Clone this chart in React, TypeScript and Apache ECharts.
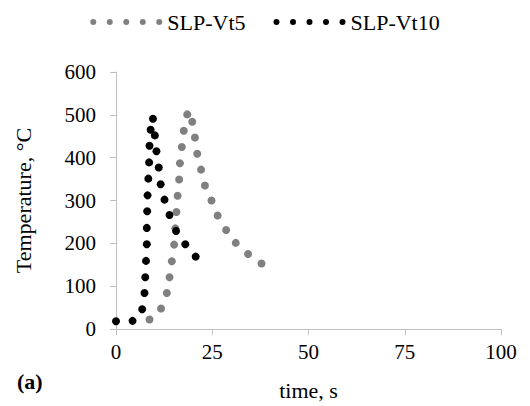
import React, { useEffect, useRef } from "react";
import * as echarts from "echarts";

const vt5Time = [8.7, 11.7, 13.2, 13.9, 14.5, 15.1, 15.4, 15.7, 16.0, 16.4, 16.6, 17.1, 17.6, 18.5, 19.8, 20.5, 21.1, 22.1, 23.1, 24.8, 26.4, 28.6, 31.1, 34.3, 37.8];
const vt5Temp = [22, 48, 84, 121, 158, 197, 235, 273, 311, 349, 387, 425, 463, 501, 484, 447, 409, 372, 335, 300, 265, 231, 201, 175, 153];
const vt10Time = [0, 4.3, 6.8, 7.4, 7.6, 7.8, 8.0, 8.0, 8.1, 8.2, 8.4, 8.6, 8.7, 9.0, 9.6, 10.1, 10.5, 11.1, 11.6, 12.6, 13.9, 15.6, 18.0, 20.7];
const vt10Temp = [18, 19, 46, 84, 121, 159, 198, 236, 275, 312, 351, 389, 428, 465, 491, 452, 415, 377, 338, 302, 266, 229, 198, 169];
const seriesNames = ["SLP-Vt5", "SLP-Vt10"];
const xTicks = [0, 25, 50, 75, 100];
const yTicks = [0, 100, 200, 300, 400, 500, 600];

const dotsIcon =
  "path://" +
  [0, 16.5, 33, 49.5, 66]
    .map((x) => `M${x},3a3,3 0 1,0 6,0a3,3 0 1,0 -6,0Z`)
    .join(" ");

export default function App() {
  const ref = useRef<HTMLDivElement>(null);
  useEffect(() => {
    if (!ref.current) return;
    const chart = echarts.init(ref.current, null, { renderer: "svg" });
    const font = "'Liberation Serif', 'Times New Roman', serif";
    const axisLine = { lineStyle: { color: "#bfbfbf", width: 1 } };
    chart.setOption({
      animation: false,
      backgroundColor: "#ffffff",
      textStyle: { fontFamily: font },
      legend: {
        top: 6,
        left: "center",
        itemGap: 28,
        itemWidth: 72,
        itemHeight: 6,
        textStyle: { fontFamily: font, fontSize: 22, color: "#000" },
        data: [
          { name: seriesNames[0], icon: dotsIcon },
          { name: seriesNames[1], icon: dotsIcon },
        ],
      },
      grid: { left: 116, right: 29, top: 72, bottom: 76 },
      xAxis: {
        type: "value",
        min: xTicks[0],
        max: xTicks[xTicks.length - 1],
        interval: 25,
        name: "time, s",
        nameLocation: "middle",
        nameGap: 50,
        nameTextStyle: { fontFamily: font, fontSize: 22, color: "#000" },
        axisLine: { show: true, ...axisLine },
        axisTick: { show: true, length: 6, lineStyle: { color: "#bfbfbf" } },
        axisLabel: { fontFamily: font, fontSize: 21, color: "#000", margin: 12 },
        splitLine: { show: false },
      },
      yAxis: {
        type: "value",
        min: yTicks[0],
        max: yTicks[yTicks.length - 1],
        interval: 100,
        name: "Temperature, °C",
        nameLocation: "middle",
        nameGap: 82,
        nameTextStyle: { fontFamily: font, fontSize: 22, color: "#000" },
        axisLine: { show: true, ...axisLine },
        axisTick: { show: true, length: 6, lineStyle: { color: "#bfbfbf" } },
        axisLabel: { fontFamily: font, fontSize: 21, color: "#000", margin: 20 },
        splitLine: { show: false },
      },
      graphic: [
        {
          type: "text",
          left: 17,
          top: 370,
          style: { text: "(a)", fontFamily: font, fontSize: 22, fontWeight: "bold", fill: "#000" },
        },
      ],
      series: [
        {
          name: seriesNames[0],
          type: "scatter",
          symbol: "circle",
          symbolSize: 8,
          itemStyle: { color: "#808080", opacity: 1 },
          data: vt5Time.map((t, i) => [t, vt5Temp[i]]),
        },
        {
          name: seriesNames[1],
          type: "scatter",
          symbol: "circle",
          symbolSize: 8,
          itemStyle: { color: "#000000", opacity: 1 },
          data: vt10Time.map((t, i) => [t, vt10Temp[i]]),
        },
      ],
    });
    return () => chart.dispose();
  }, []);
  return (
    <div
      ref={ref}
      style={{ position: "fixed", left: 0, top: 0, width: 530, height: 406 }}
    />
  );
}
